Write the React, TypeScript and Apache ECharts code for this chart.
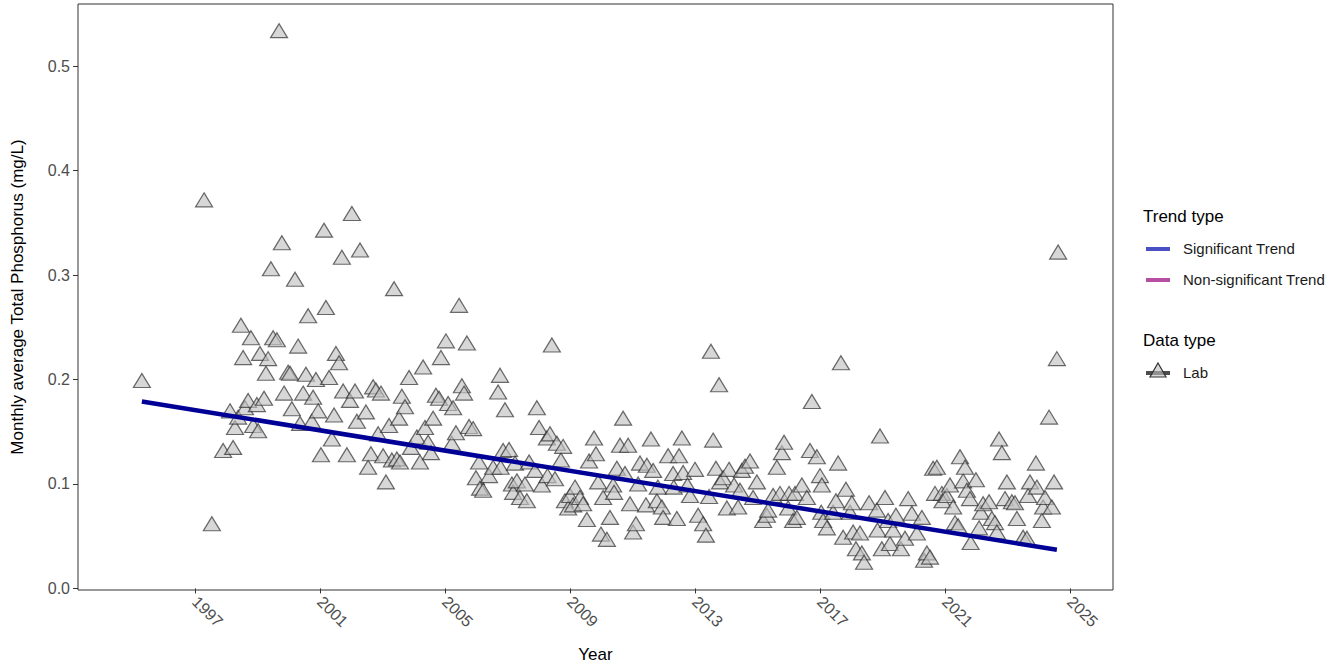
import React, { useEffect, useRef } from "react";
import * as echarts from "echarts";

// Monthly lab samples: [decimal year, total phosphorus mg/L]
const labSamples: [number, number][] = [
  [1995.30, 0.199], [1997.29, 0.372], [1997.54, 0.062], [1997.90, 0.132], [1998.12, 0.170],
  [1998.22, 0.135], [1998.28, 0.154], [1998.38, 0.164], [1998.47, 0.252], [1998.54, 0.221],
  [1998.60, 0.173], [1998.70, 0.180], [1998.79, 0.240], [1998.86, 0.156], [1998.98, 0.176],
  [1999.02, 0.151], [1999.08, 0.225], [1999.21, 0.182], [1999.27, 0.206], [1999.34, 0.220],
  [1999.43, 0.306], [1999.50, 0.240], [1999.62, 0.238], [1999.69, 0.534], [1999.78, 0.331],
  [1999.85, 0.187], [1999.98, 0.207], [2000.04, 0.206], [2000.10, 0.172], [2000.20, 0.296],
  [2000.30, 0.232], [2000.36, 0.158], [2000.46, 0.187], [2000.55, 0.205], [2000.62, 0.261],
  [2000.74, 0.160], [2000.78, 0.183], [2000.87, 0.200], [2000.94, 0.170], [2001.03, 0.128],
  [2001.13, 0.343], [2001.19, 0.269], [2001.29, 0.202], [2001.38, 0.143], [2001.45, 0.166],
  [2001.51, 0.225], [2001.61, 0.216], [2001.70, 0.317], [2001.74, 0.189], [2001.86, 0.128],
  [2001.96, 0.180], [2002.02, 0.359], [2002.12, 0.189], [2002.18, 0.160], [2002.28, 0.324],
  [2002.47, 0.169], [2002.54, 0.116], [2002.63, 0.129], [2002.70, 0.193], [2002.79, 0.190],
  [2002.86, 0.148], [2002.95, 0.187], [2003.02, 0.127], [2003.11, 0.102], [2003.21, 0.156],
  [2003.30, 0.123], [2003.37, 0.287], [2003.46, 0.124], [2003.53, 0.163], [2003.56, 0.121],
  [2003.62, 0.184], [2003.72, 0.174], [2003.85, 0.202], [2003.91, 0.135], [2004.10, 0.145],
  [2004.20, 0.121], [2004.30, 0.212], [2004.36, 0.154], [2004.46, 0.140], [2004.55, 0.130],
  [2004.62, 0.163], [2004.71, 0.185], [2004.81, 0.182], [2004.87, 0.221], [2005.03, 0.237],
  [2005.10, 0.177], [2005.22, 0.139], [2005.26, 0.173], [2005.35, 0.149], [2005.45, 0.271],
  [2005.54, 0.194], [2005.61, 0.187], [2005.70, 0.235], [2005.77, 0.155], [2005.90, 0.153],
  [2005.99, 0.106], [2006.09, 0.121], [2006.12, 0.096], [2006.22, 0.094], [2006.41, 0.108],
  [2006.54, 0.116], [2006.70, 0.188], [2006.76, 0.204], [2006.78, 0.116], [2006.86, 0.132],
  [2006.92, 0.171], [2007.05, 0.133], [2007.14, 0.100], [2007.18, 0.092], [2007.24, 0.120],
  [2007.30, 0.103], [2007.40, 0.087], [2007.56, 0.100], [2007.62, 0.084], [2007.69, 0.121],
  [2007.88, 0.113], [2007.94, 0.173], [2008.01, 0.154], [2008.10, 0.099], [2008.26, 0.144],
  [2008.28, 0.108], [2008.36, 0.148], [2008.42, 0.233], [2008.52, 0.105], [2008.58, 0.139],
  [2008.71, 0.123], [2008.78, 0.136], [2008.84, 0.084], [2008.94, 0.077], [2009.00, 0.089],
  [2009.10, 0.080], [2009.16, 0.097], [2009.32, 0.087], [2009.42, 0.081], [2009.54, 0.066],
  [2009.61, 0.122], [2009.77, 0.144], [2009.83, 0.129], [2009.90, 0.102], [2009.99, 0.052],
  [2010.06, 0.087], [2010.18, 0.047], [2010.28, 0.068], [2010.38, 0.099], [2010.41, 0.092],
  [2010.50, 0.115], [2010.60, 0.137], [2010.70, 0.163], [2010.76, 0.110], [2010.86, 0.137],
  [2010.92, 0.081], [2011.02, 0.054], [2011.11, 0.062], [2011.18, 0.100], [2011.24, 0.120],
  [2011.43, 0.080], [2011.46, 0.118], [2011.59, 0.143], [2011.66, 0.113], [2011.78, 0.084],
  [2011.81, 0.097], [2011.94, 0.078], [2011.98, 0.068], [2012.14, 0.127], [2012.30, 0.110],
  [2012.32, 0.097], [2012.42, 0.067], [2012.49, 0.127], [2012.58, 0.144], [2012.62, 0.111],
  [2012.76, 0.099], [2012.84, 0.089], [2013.00, 0.114], [2013.10, 0.070], [2013.26, 0.062],
  [2013.35, 0.051], [2013.45, 0.088], [2013.51, 0.227], [2013.58, 0.142], [2013.67, 0.115],
  [2013.77, 0.195], [2013.80, 0.102], [2013.90, 0.106], [2014.02, 0.077], [2014.09, 0.114],
  [2014.25, 0.099], [2014.38, 0.078], [2014.44, 0.094], [2014.50, 0.113], [2014.60, 0.117],
  [2014.76, 0.122], [2014.86, 0.087], [2014.98, 0.102], [2015.18, 0.065], [2015.30, 0.070],
  [2015.34, 0.075], [2015.50, 0.089], [2015.62, 0.116], [2015.72, 0.091], [2015.78, 0.130],
  [2015.85, 0.140], [2015.98, 0.077], [2016.01, 0.091], [2016.14, 0.065], [2016.20, 0.091],
  [2016.26, 0.068], [2016.42, 0.099], [2016.58, 0.087], [2016.68, 0.132], [2016.74, 0.179],
  [2016.90, 0.126], [2017.00, 0.108], [2017.04, 0.073], [2017.06, 0.099], [2017.10, 0.065],
  [2017.22, 0.058], [2017.42, 0.073], [2017.51, 0.084], [2017.58, 0.120], [2017.67, 0.216],
  [2017.74, 0.049], [2017.83, 0.095], [2017.96, 0.073], [2018.02, 0.082], [2018.06, 0.054],
  [2018.15, 0.038], [2018.28, 0.053], [2018.34, 0.034], [2018.41, 0.025], [2018.57, 0.082],
  [2018.82, 0.075], [2018.84, 0.056], [2018.92, 0.146], [2018.98, 0.038], [2019.08, 0.087],
  [2019.18, 0.065], [2019.24, 0.043], [2019.34, 0.056], [2019.43, 0.070], [2019.59, 0.038],
  [2019.72, 0.048], [2019.82, 0.086], [2019.94, 0.072], [2020.10, 0.053], [2020.26, 0.068],
  [2020.33, 0.027], [2020.42, 0.034], [2020.52, 0.030], [2020.62, 0.115], [2020.68, 0.091],
  [2020.74, 0.116], [2020.90, 0.091], [2020.92, 0.084], [2021.06, 0.089], [2021.16, 0.099],
  [2021.26, 0.078], [2021.32, 0.063], [2021.42, 0.060], [2021.48, 0.126], [2021.58, 0.103],
  [2021.64, 0.116], [2021.70, 0.094], [2021.80, 0.086], [2021.82, 0.044], [2021.99, 0.104],
  [2022.09, 0.058], [2022.15, 0.073], [2022.22, 0.081], [2022.41, 0.083], [2022.50, 0.067],
  [2022.60, 0.063], [2022.66, 0.054], [2022.73, 0.143], [2022.82, 0.130], [2022.92, 0.086],
  [2022.98, 0.102], [2023.14, 0.083], [2023.24, 0.082], [2023.30, 0.067], [2023.50, 0.049],
  [2023.62, 0.048], [2023.66, 0.089], [2023.72, 0.102], [2023.91, 0.120], [2023.94, 0.097],
  [2024.10, 0.065], [2024.14, 0.078], [2024.20, 0.087], [2024.33, 0.164], [2024.42, 0.078],
  [2024.49, 0.102], [2024.58, 0.220], [2024.62, 0.322],
];

// Fitted trend (significant), endpoints
const trendYears = [1995.3, 2024.58];
const trendValues = [0.179, 0.037];

const xTicks = [1997, 2001, 2005, 2009, 2013, 2017, 2021, 2025];
const yTicks = [0, 0.1, 0.2, 0.3, 0.4, 0.5];

const FONT = "Arial, 'Liberation Sans', Helvetica, sans-serif";

export default function App() {
  const ref = useRef<HTMLDivElement>(null);

  useEffect(() => {
    if (!ref.current) return;
    const chart = echarts.init(ref.current, undefined, { renderer: "svg" });

    const legendX = 1146;
    const textX = 1183;

    chart.setOption({
      animation: false,
      backgroundColor: "#ffffff",
      textStyle: { fontFamily: FONT },
      grid: {
        left: 78,
        right: 230,
        top: 4,
        bottom: 78,
        show: true,
        borderColor: "#333333",
        borderWidth: 1,
        backgroundColor: "transparent",
      },
      xAxis: {
        type: "value",
        min: 1993.256,
        max: 2026.376,
        name: "Year",
        nameLocation: "middle",
        nameGap: 56,
        nameTextStyle: { fontSize: 17, color: "#000000", fontFamily: FONT },
        axisLine: { show: false },
        splitLine: { show: false },
        axisTick: {
          show: true,
          length: 5,
          customValues: xTicks,
          lineStyle: { color: "#333333" },
        },
        axisLabel: {
          customValues: xTicks,
          rotate: -45,
          margin: 9,
          fontSize: 16,
          color: "#4d4d4d",
          fontFamily: FONT,
          formatter: (v: number) => String(Math.round(v)),
        },
      },
      yAxis: {
        type: "value",
        min: -0.0015,
        max: 0.5595,
        name: "Monthly average Total Phosphorus (mg/L)",
        nameLocation: "middle",
        nameGap: 52,
        nameTextStyle: { fontSize: 17, color: "#000000", fontFamily: FONT },
        axisLine: { show: false },
        splitLine: { show: false },
        axisTick: {
          show: true,
          length: 5,
          customValues: yTicks,
          lineStyle: { color: "#333333" },
        },
        axisLabel: {
          customValues: yTicks,
          margin: 8,
          fontSize: 16,
          color: "#4d4d4d",
          fontFamily: FONT,
          formatter: (v: number) => v.toFixed(1),
        },
      },
      series: [
        {
          type: "scatter",
          name: "Lab",
          data: labSamples,
          symbol: "triangle",
          symbolSize: [17, 14],
          itemStyle: {
            color: "rgba(192,192,192,0.8)",
            borderColor: "rgba(40,40,40,0.85)",
            borderWidth: 1.2,
          },
          z: 2,
        },
        {
          type: "line",
          name: "Significant Trend",
          data: trendYears.map((y, i) => [y, trendValues[i]]),
          showSymbol: false,
          symbol: "none",
          lineStyle: { color: "#000096", width: 4.5 },
          z: 3,
        },
      ],
      graphic: [
        {
          type: "text",
          left: 1143,
          top: 208,
          style: { text: "Trend type", fontSize: 17, fill: "#000000", fontFamily: FONT },
        },
        {
          type: "line",
          shape: { x1: legendX, y1: 249, x2: legendX + 24, y2: 249 },
          style: { stroke: "#4b4fc4", lineWidth: 4 },
        },
        {
          type: "text",
          left: textX,
          top: 241,
          style: { text: "Significant Trend", fontSize: 15, fill: "#1a1a1a", fontFamily: FONT },
        },
        {
          type: "line",
          shape: { x1: legendX, y1: 280, x2: legendX + 24, y2: 280 },
          style: { stroke: "#b84ea2", lineWidth: 4 },
        },
        {
          type: "text",
          left: textX,
          top: 272,
          style: { text: "Non-significant Trend", fontSize: 15, fill: "#1a1a1a", fontFamily: FONT },
        },
        {
          type: "text",
          left: 1143,
          top: 332,
          style: { text: "Data type", fontSize: 17, fill: "#000000", fontFamily: FONT },
        },
        {
          type: "line",
          shape: { x1: legendX, y1: 373, x2: legendX + 24, y2: 373 },
          style: { stroke: "#4d4d4d", lineWidth: 4 },
        },
        {
          type: "polygon",
          shape: { points: [[1158, 363], [1166, 377], [1150, 377]] },
          style: { fill: "rgba(192,192,192,0.6)", stroke: "#333333", lineWidth: 1.2 },
        },
        {
          type: "text",
          left: textX,
          top: 365,
          style: { text: "Lab", fontSize: 15, fill: "#1a1a1a", fontFamily: FONT },
        },
      ],
    });

    return () => chart.dispose();
  }, []);

  return (
    <div
      ref={ref}
      style={{ position: "fixed", left: 0, top: 0, width: 1343, height: 668 }}
    />
  );
}
